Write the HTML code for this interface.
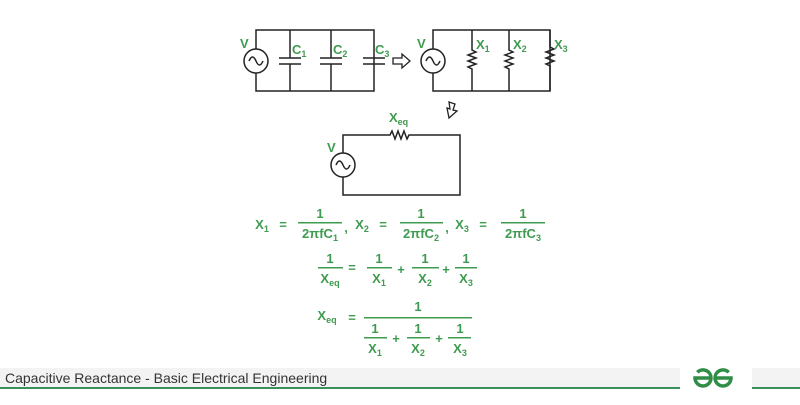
<!DOCTYPE html>
<html><head><style>
body{margin:0;width:800px;height:400px;background:#fff;overflow:hidden;font-family:"Liberation Sans",sans-serif}
</style></head><body>
<svg width="800" height="400" xmlns="http://www.w3.org/2000/svg" font-family="Liberation Sans, sans-serif">
<g stroke="#222" stroke-width="1.5" fill="none">
<rect x="256" y="30" width="118" height="61"/>
<line x1="290" y1="30" x2="290" y2="58"/><line x1="290" y1="64" x2="290" y2="91"/>
<line x1="331" y1="30" x2="331" y2="58"/><line x1="331" y1="64" x2="331" y2="91"/>
<line x1="279" y1="58" x2="301" y2="58"/><line x1="279" y1="64" x2="301" y2="64"/>
<line x1="320" y1="58" x2="342" y2="58"/><line x1="320" y1="64" x2="342" y2="64"/>
<line x1="363" y1="58" x2="385" y2="58"/><line x1="363" y1="64" x2="385" y2="64"/>
<circle cx="256" cy="61" r="12" fill="#fff"/>
<path d="M249 61 q3.5 -8 7 0 t7 0"/>
<path d="M393 58 h9 v-4 l8 7 l-8 7 v-4 h-9 z" stroke-width="1.3"/>
<rect x="433" y="30" width="117" height="61"/>
<circle cx="433" cy="61" r="12" fill="#fff"/>
<path d="M426 61 q3.5 -8 7 0 t7 0"/>
<path d="M472 30 V50 l4 2 l-8 3 l8 3 l-8 3 l8 3 l-8 3 l4 2 V91"/>
<path d="M509 30 V50 l4 2 l-8 3 l8 3 l-8 3 l8 3 l-8 3 l4 2 V91"/>
<path d="M550 30 V47 l4 2 l-8 3 l8 3 l-8 3 l8 3 l-8 3 l4 2 V91"/>
<path d="M449 102 l6 2 l-2 6 l4 1 l-8 7 l-2 -10 l3 1 z" stroke-width="1.3"/>
<path d="M343 153 V135 H390 l2 -4 l3 8 l3 -8 l3 8 l3 -8 l3 8 l2 -4 H460 V195 H343 V177"/>
<circle cx="343" cy="165" r="12" fill="#fff"/>
<path d="M336 165 q3.5 -8 7 0 t7 0"/>
</g>
<g fill="#3f9b4f" font-weight="bold" font-size="13">
<text x="240" y="48">V</text>
<text x="292" y="54">C<tspan font-size="9" dy="3">1</tspan></text>
<text x="333" y="54">C<tspan font-size="9" dy="3">2</tspan></text>
<text x="375" y="54">C<tspan font-size="9" dy="3">3</tspan></text>
<text x="417" y="48">V</text>
<text x="476" y="49">X<tspan font-size="9" dy="3">1</tspan></text>
<text x="513" y="49">X<tspan font-size="9" dy="3">2</tspan></text>
<text x="554" y="49">X<tspan font-size="9" dy="3">3</tspan></text>
<text x="389" y="122">X<tspan font-size="9" dy="3">eq</tspan></text>
<text x="327" y="152">V</text>
</g>
<g fill="#3f9b4f" font-weight="bold" font-size="13" text-anchor="middle">
<text x="262" y="229">X<tspan font-size="9" dy="3">1</tspan></text>
<text x="283" y="229">=</text>
<text x="320" y="218">1</text><rect x="298" y="222" width="44" height="1.5"/>
<text x="320" y="238">2πfC<tspan font-size="9" dy="3">1</tspan></text>
<text x="346" y="232">,</text>
<text x="362" y="229">X<tspan font-size="9" dy="3">2</tspan></text>
<text x="383" y="229">=</text>
<text x="421" y="218">1</text><rect x="400" y="222" width="43" height="1.5"/>
<text x="421" y="238">2πfC<tspan font-size="9" dy="3">2</tspan></text>
<text x="447" y="232">,</text>
<text x="462" y="229">X<tspan font-size="9" dy="3">3</tspan></text>
<text x="483" y="229">=</text>
<text x="523" y="218">1</text><rect x="501" y="222" width="44" height="1.5"/>
<text x="523" y="238">2πfC<tspan font-size="9" dy="3">3</tspan></text>
<text x="330" y="263">1</text><rect x="318" y="267" width="25" height="1.5"/>
<text x="330" y="283">X<tspan font-size="9" dy="3">eq</tspan></text>
<text x="352" y="272">=</text>
<text x="379" y="263">1</text><rect x="367" y="267" width="25" height="1.5"/>
<text x="379" y="283">X<tspan font-size="9" dy="3">1</tspan></text>
<text x="401" y="274">+</text>
<text x="425" y="263">1</text><rect x="412" y="267" width="27" height="1.5"/>
<text x="425" y="283">X<tspan font-size="9" dy="3">2</tspan></text>
<text x="446" y="274">+</text>
<text x="466" y="263">1</text><rect x="455" y="267" width="22" height="1.5"/>
<text x="466" y="283">X<tspan font-size="9" dy="3">3</tspan></text>
<text x="327" y="320">X<tspan font-size="9" dy="3">eq</tspan></text>
<text x="352" y="322">=</text>
<text x="418" y="311">1</text><rect x="364" y="317" width="108" height="1.5"/>
<text x="375" y="333">1</text><rect x="364" y="337" width="23" height="1.5"/>
<text x="375" y="353">X<tspan font-size="9" dy="3">1</tspan></text>
<text x="396" y="343">+</text>
<text x="418" y="333">1</text><rect x="407" y="337" width="23" height="1.5"/>
<text x="418" y="353">X<tspan font-size="9" dy="3">2</tspan></text>
<text x="439" y="343">+</text>
<text x="460" y="333">1</text><rect x="448" y="337" width="23" height="1.5"/>
<text x="460" y="353">X<tspan font-size="9" dy="3">3</tspan></text>
</g>
<rect x="0" y="368" width="680" height="20" fill="#f3f3f3"/>
<rect x="752" y="368" width="48" height="20" fill="#f3f3f3"/>
<text x="5" y="383" font-size="14" fill="#333">Capacitive Reactance - Basic Electrical Engineering</text>
<rect x="0" y="387" width="680" height="2" fill="#3a8f5a"/>
<rect x="752" y="387" width="48" height="2" fill="#3a8f5a"/>
<g stroke="#2f8d46" stroke-width="3.5" fill="none">
<path d="M697.3 372.3 A8 8 0 0 1 711 378 A8 8 0 0 1 695 378 H711"/>
<path d="M728.7 372.3 A8 8 0 0 0 715 378 A8 8 0 0 0 731 378 H715"/>
</g>
</svg>
</body></html>
